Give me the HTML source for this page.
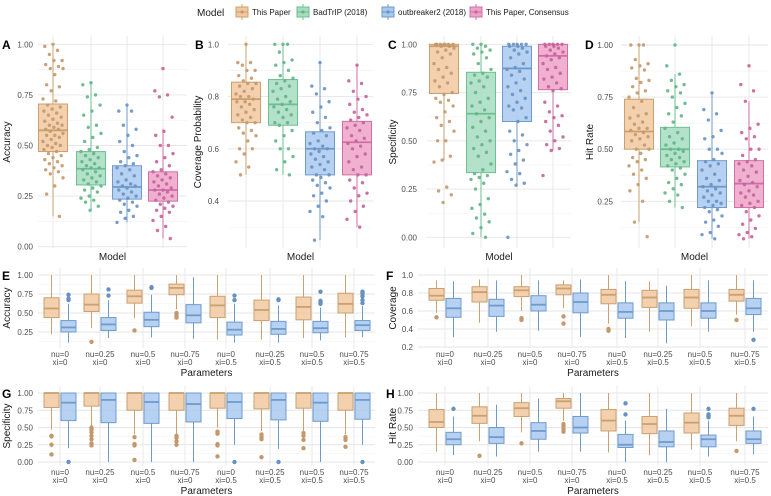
<!DOCTYPE html>
<html><head><meta charset="utf-8">
<style>
html,body{margin:0;padding:0;background:#fff;}
svg{display:block;font-family:"Liberation Sans",sans-serif;}
.tk{font-size:8px;fill:#4d4d4d;}
.ax{font-size:10px;fill:#1a1a1a;}
.lt{font-size:12px;font-weight:bold;fill:#000;}
.lg{font-size:8px;fill:#1a1a1a;}
</style></head>
<body>
<svg id="chart" width="771" height="496" viewBox="0 0 771 496" xmlns="http://www.w3.org/2000/svg"></svg>
<script>
// ---------- data ----------
const models = ["This Paper","BadTrIP (2018)","outbreaker2 (2018)","This Paper, Consensus"];
const paramLabels1 = ["nu=0","nu=0.25","nu=0.5","nu=0.75","nu=0","nu=0.25","nu=0.5","nu=0.75"];
const paramLabels2 = ["xi=0","xi=0","xi=0","xi=0","xi=0.5","xi=0.5","xi=0.5","xi=0.5"];

// Panel A (Accuracy) box stats [lo,q1,med,q3,hi]
const A_stats = [[0.15,0.47,0.575,0.705,1.0],[0.18,0.305,0.385,0.47,0.81],[0.12,0.235,0.295,0.40,0.70],[0.04,0.225,0.28,0.37,0.58]];
const A_pts0 = [1.0,0.99,0.97,0.95,0.92,0.92,0.9,0.89,0.88,0.88,0.85,0.8,0.79,0.77,0.73,0.72,0.7,0.69,0.68,0.67,0.66,0.65,0.64,0.63,0.62,0.61,0.6,0.6,0.59,0.58,0.58,0.57,0.56,0.55,0.55,0.54,0.53,0.52,0.51,0.5,0.5,0.49,0.48,0.47,0.46,0.45,0.44,0.43,0.42,0.41,0.4,0.39,0.38,0.37,0.36,0.34,0.3,0.26,0.15];
const A_pts1 = [0.81,0.8,0.75,0.74,0.7,0.67,0.65,0.6,0.59,0.56,0.54,0.52,0.49,0.48,0.47,0.46,0.45,0.44,0.43,0.42,0.41,0.4,0.39,0.39,0.38,0.37,0.36,0.35,0.34,0.33,0.32,0.31,0.3,0.29,0.28,0.27,0.25,0.24,0.23,0.22,0.2,0.18];
const A_pts2 = [0.7,0.67,0.67,0.6,0.58,0.55,0.52,0.5,0.47,0.45,0.44,0.42,0.41,0.4,0.39,0.38,0.36,0.35,0.33,0.32,0.31,0.3,0.3,0.29,0.28,0.27,0.26,0.25,0.24,0.23,0.22,0.21,0.2,0.18,0.17,0.15,0.14,0.12];
const A_pts3 = [0.88,0.77,0.75,0.74,0.64,0.57,0.55,0.5,0.5,0.46,0.44,0.42,0.4,0.38,0.37,0.36,0.35,0.34,0.33,0.32,0.31,0.3,0.29,0.28,0.28,0.27,0.26,0.25,0.24,0.23,0.22,0.21,0.2,0.19,0.18,0.17,0.15,0.13,0.1,0.08,0.04];
// Panel B (Coverage Probability)
const B_stats = [[0.5,0.70,0.79,0.855,1.0],[0.5,0.69,0.77,0.865,1.0],[0.25,0.50,0.60,0.665,0.93],[0.30,0.50,0.625,0.705,0.92]];
const B_pts0 = [1.0,0.93,0.93,0.92,0.9,0.9,0.88,0.87,0.86,0.85,0.85,0.84,0.83,0.82,0.81,0.8,0.8,0.79,0.78,0.78,0.77,0.76,0.75,0.74,0.73,0.72,0.71,0.7,0.7,0.68,0.67,0.66,0.65,0.63,0.6,0.6,0.58,0.55,0.53,0.5];
const B_pts1 = [1.0,1.0,1.0,0.97,0.94,0.93,0.92,0.9,0.88,0.87,0.86,0.85,0.84,0.83,0.82,0.8,0.79,0.78,0.77,0.76,0.75,0.74,0.73,0.72,0.7,0.7,0.69,0.67,0.65,0.63,0.6,0.6,0.57,0.55,0.52,0.5];
const B_pts2 = [0.93,0.84,0.83,0.81,0.78,0.76,0.74,0.72,0.7,0.68,0.67,0.66,0.65,0.63,0.62,0.61,0.6,0.6,0.59,0.58,0.57,0.56,0.55,0.54,0.53,0.52,0.5,0.5,0.49,0.48,0.47,0.46,0.45,0.43,0.42,0.4,0.38,0.36,0.34,0.25];
const B_pts3 = [0.92,0.86,0.85,0.82,0.8,0.79,0.77,0.75,0.74,0.73,0.72,0.71,0.7,0.69,0.68,0.67,0.65,0.64,0.63,0.62,0.61,0.6,0.58,0.57,0.55,0.53,0.52,0.5,0.5,0.48,0.47,0.45,0.43,0.42,0.4,0.38,0.36,0.33,0.3];
// Panel C (Specificity)
const C_stats = [[0.4,0.745,0.99,1.0,1.0],[0.0,0.335,0.64,0.855,1.0],[0.27,0.60,0.875,0.99,1.0],[0.45,0.765,0.94,1.0,1.0]];
const C_pts0 = [1,1,1,1,1,1,1,0.99,0.99,0.98,0.97,0.96,0.95,0.93,0.9,0.88,0.87,0.85,0.83,0.81,0.8,0.78,0.75,0.74,0.72,0.71,0.7,0.68,0.65,0.62,0.6,0.58,0.55,0.5,0.5,0.42,0.4,0.39,0.26,0.24,0.22,0.18];
const C_pts1 = [1,1,0.99,0.98,0.97,0.96,0.95,0.93,0.9,0.87,0.85,0.84,0.83,0.81,0.8,0.78,0.75,0.72,0.7,0.68,0.66,0.64,0.62,0.6,0.57,0.55,0.52,0.5,0.48,0.46,0.44,0.42,0.38,0.35,0.33,0.32,0.31,0.3,0.28,0.25,0.2,0.17,0.15,0.12,0.1,0.08,0.05,0.02,0.0];
const C_pts2 = [1,1,1,1,1,0.99,0.99,0.98,0.97,0.96,0.95,0.93,0.9,0.88,0.87,0.86,0.84,0.82,0.8,0.78,0.76,0.74,0.72,0.7,0.68,0.67,0.66,0.62,0.6,0.55,0.53,0.5,0.48,0.45,0.43,0.4,0.38,0.34,0.33,0.3,0.28,0.27,0.0];
const C_pts3 = [1,1,1,1,1,0.99,0.99,0.98,0.97,0.96,0.95,0.94,0.93,0.92,0.9,0.88,0.87,0.85,0.83,0.82,0.8,0.78,0.77,0.76,0.7,0.68,0.65,0.63,0.62,0.6,0.58,0.55,0.52,0.5,0.48,0.46,0.45,0.32];
// Panel D (Hit Rate)
const D_stats = [[0.15,0.50,0.585,0.74,1.0],[0.22,0.415,0.50,0.605,0.86],[0.07,0.22,0.32,0.445,0.77],[0.07,0.22,0.335,0.445,0.73]];
const D_pts0 = [1,1,1,0.93,0.91,0.9,0.89,0.88,0.84,0.83,0.82,0.8,0.78,0.77,0.75,0.73,0.7,0.67,0.66,0.65,0.63,0.62,0.6,0.6,0.59,0.58,0.57,0.56,0.55,0.54,0.52,0.5,0.5,0.48,0.46,0.45,0.44,0.42,0.4,0.38,0.36,0.33,0.3,0.25,0.15,0.08];
const D_pts1 = [1.0,0.9,0.86,0.83,0.81,0.8,0.78,0.77,0.75,0.72,0.7,0.67,0.66,0.63,0.6,0.58,0.56,0.55,0.53,0.52,0.5,0.5,0.49,0.48,0.47,0.46,0.45,0.44,0.43,0.42,0.41,0.4,0.38,0.36,0.34,0.33,0.31,0.29,0.28,0.25,0.22];
const D_pts2 = [0.77,0.69,0.67,0.64,0.59,0.56,0.55,0.5,0.5,0.48,0.45,0.44,0.43,0.42,0.4,0.38,0.36,0.35,0.33,0.32,0.31,0.3,0.29,0.28,0.27,0.25,0.25,0.24,0.23,0.22,0.21,0.2,0.18,0.16,0.15,0.13,0.1,0.09,0.07];
const D_pts3 = [0.9,0.81,0.78,0.73,0.62,0.6,0.58,0.56,0.55,0.5,0.5,0.47,0.45,0.44,0.43,0.42,0.4,0.39,0.37,0.35,0.34,0.33,0.32,0.3,0.29,0.28,0.27,0.25,0.24,0.23,0.22,0.2,0.18,0.16,0.14,0.12,0.1,0.09,0.08,0.07];

// Panel E (Accuracy by parameters)
const E_tp = [[0.22,0.44,0.56,0.70,1.0],[0.30,0.52,0.61,0.75,1.0],[0.43,0.63,0.72,0.80,1.0],[0.55,0.74,0.83,0.88,1.0],[0.15,0.44,0.60,0.72,1.0],[0.15,0.40,0.54,0.67,1.0],[0.17,0.41,0.58,0.71,1.0],[0.18,0.50,0.62,0.76,1.0]];
const E_tp_out = [[],[0.12],[0.27],[0.44,0.46,0.49,0.5],[],[],[],[]];
const E_ob = [[0.11,0.25,0.31,0.40,0.62],[0.17,0.27,0.35,0.44,0.67],[0.18,0.32,0.41,0.51,0.74],[0.16,0.37,0.47,0.61,0.97],[0.11,0.21,0.28,0.38,0.62],[0.11,0.22,0.29,0.39,0.60],[0.14,0.24,0.30,0.39,0.57],[0.18,0.27,0.34,0.40,0.59]];
const E_ob_out = [[0.67,0.69,0.74],[0.73,0.81],[0.83,0.84],[],[0.67,0.73],[0.67,0.68],[0.62,0.64,0.66,0.78],[0.63,0.67,0.72,0.75,0.77,0.78]];
// Panel F (Coverage by parameters)
const F_tp = [[0.58,0.72,0.77,0.85,0.94],[0.47,0.70,0.81,0.87,0.95],[0.60,0.76,0.83,0.87,1.0],[0.63,0.78,0.85,0.89,0.94],[0.46,0.68,0.78,0.84,1.0],[0.37,0.64,0.75,0.83,0.93],[0.43,0.63,0.75,0.84,1.0],[0.56,0.71,0.78,0.84,1.0]];
const F_tp_out = [[0.53],[],[0.50,0.52],[0.46,0.54],[0.38,0.40],[],[],[0.50]];
const F_ob = [[0.31,0.53,0.63,0.74,0.93],[0.37,0.54,0.66,0.73,0.94],[0.38,0.60,0.67,0.77,0.94],[0.31,0.58,0.70,0.80,0.95],[0.30,0.52,0.59,0.69,0.93],[0.24,0.50,0.60,0.69,0.88],[0.37,0.52,0.60,0.69,0.94],[0.37,0.56,0.63,0.74,0.94]];
const F_ob_out = [[],[],[],[],[],[],[],[0.28]];
// Panel G (Specificity by parameters)
const G_tp = [[0.47,0.79,1,1,1],[0.53,0.81,1,1,1],[0.40,0.75,1,1,1],[0.40,0.75,1,1,1],[0.50,0.78,1,1,1],[0.45,0.77,1,1,1],[0.45,0.78,1,1,1],[0.40,0.75,1,1,1]];
const G_tp_out = [[0.38,0.37,0.25,0.11],[0.5,0.47,0.43,0.38,0.33,0.27,0.24],[0.36,0.26,0.24,0.03],[0.38,0.35,0.3,0.25],[0.44,0.41,0.26,0.24,0.08],[0.4,0.36,0.33,0.07],[0.42,0.38,0.32,0.2],[0.36,0.32,0.22]];
const G_ob = [[0.2,0.6,0.86,1,1],[0,0.57,0.9,1,1],[0,0.56,0.87,1,1],[0,0.58,0.84,1,1],[0.25,0.63,0.87,1,1],[0.19,0.61,0.9,1,1],[0,0.59,0.86,1,1],[0.25,0.62,0.9,1,1]];
const G_ob_out = [[0],[],[],[],[0],[0],[],[0]];
// Panel H (Hit Rate by parameters)
const H_tp = [[0.15,0.5,0.58,0.76,1.0],[0.3,0.56,0.67,0.8,1.0],[0.43,0.66,0.78,0.86,1.0],[0.6,0.78,0.88,0.92,1.0],[0.14,0.45,0.6,0.76,1.0],[0.1,0.41,0.55,0.66,1.0],[0.18,0.42,0.57,0.71,1.0],[0.3,0.53,0.67,0.78,1.0]];
const H_tp_out = [[],[0.09],[0.27],[0.44,0.48,0.52,0.55],[],[],[],[0.16]];
const H_ob = [[0.1,0.25,0.33,0.43,0.66],[0.08,0.27,0.36,0.5,0.83],[0.15,0.33,0.45,0.57,0.92],[0.15,0.42,0.5,0.66,1.0],[0,0.21,0.25,0.4,0.6],[0,0.22,0.29,0.45,0.77],[0.08,0.22,0.33,0.39,0.6],[0.11,0.27,0.33,0.45,0.66]];
const H_ob_out = [[0.77],[],[],[],[0.69,0.85],[],[0.65,0.67,0.69,0.77],[0.77]];

// ---------- rendering ----------
const NS = "http://www.w3.org/2000/svg";
const svg = document.getElementById("chart");
const COLS = [
  {fill:"#f1c8a0", stroke:"#c9a06e", pt:"#c4986a"},
  {fill:"#a6dcbf", stroke:"#6dbf92", pt:"#62b586"},
  {fill:"#a9c9ee", stroke:"#6f9bcb", pt:"#6891c2"},
  {fill:"#eda3c9", stroke:"#cf70a4", pt:"#c7629a"}
];
function mk(tag, attrs, parent){
  const e = document.createElementNS(NS, tag);
  for (const k in attrs) e.setAttribute(k, attrs[k]);
  (parent||svg).appendChild(e);
  return e;
}
function txt(x,y,s,cls,anchor,parent){
  const t = mk("text",{x:x,y:y,class:cls,"text-anchor":anchor||"start"},parent);
  t.textContent = s;
  return t;
}
function linScale(v0,p0,v1,p1){ return v => p0 + (v-v0)*(p1-p0)/(v1-v0); }

function grid(g, x0,x1,y0,y1, ys, ticks, minor, xs, fmt, labX){
  ticks.forEach(v=>{
    const l = mk("line",{x1:x0,x2:x1,y1:ys(v),y2:ys(v),stroke:"#e6e6e6","stroke-width":0.9},g);
    
    
    const t = txt(labX, ys(v)+3, fmt(v), "tk", "end", g);
    
    
  });
  minor.forEach(v=>{
    const y = ys(v);
    if (y>y0 && y<y1) mk("line",{x1:x0,x2:x1,y1:y,y2:y,stroke:"#f2f2f2","stroke-width":0.6},g);
  });
  xs.forEach(x=>{
    const l = mk("line",{x1:x,x2:x,y1:y0,y2:y1,stroke:"#e6e6e6","stroke-width":0.9},g);
    
    
  });
}
function box(g, cx, w, s, ys, col, name){
  const bg = mk("g",{},g);
  
  
  mk("line",{x1:cx,x2:cx,y1:ys(s[4]),y2:ys(s[3]),stroke:col.stroke,"stroke-width":1},bg);
  mk("line",{x1:cx,x2:cx,y1:ys(s[1]),y2:ys(s[0]),stroke:col.stroke,"stroke-width":1},bg);
  mk("rect",{x:cx-w/2,y:ys(s[3]),width:w,height:Math.max(0.5,ys(s[1])-ys(s[3])),fill:col.fill,"fill-opacity":0.85,stroke:col.stroke,"stroke-width":1},bg);
  mk("line",{x1:cx-w/2,x2:cx+w/2,y1:ys(s[2]),y2:ys(s[2]),stroke:col.stroke,"stroke-width":1.8},bg);
}
function points(g, cx, pts, ys, col, spread){
  pts.forEach((v,i)=>{
    const j = (((i*37+11)%23)/22 - 0.5)*spread;
    const c = mk("circle",{cx:cx+j,cy:ys(v),r:1.7,fill:col.pt,"fill-opacity":0.9},g);
    
    
  });
}
function ylab(x,y,s){
  const t = mk("text",{x:0,y:0,class:"ax","text-anchor":"middle",transform:`translate(${x},${y}) rotate(-90)`});
  t.textContent = s;
  
  
}
function letter(x,y,s){
  const t = txt(x,y,s,"lt","start");
  
  
}

// top panels
function topPanel(cfg){
  const g = mk("g",{});
  
  
  const ys = linScale(cfg.v0,cfg.p0,cfg.v1,cfg.p1);
  grid(g, cfg.x0, cfg.x1, 36, 248, ys, cfg.ticks, cfg.minor, cfg.cats, cfg.fmt, cfg.labX);
  for (let k=0;k<4;k++) box(g, cfg.cats[k], 29, cfg.stats[k], ys, COLS[k], 'box-'+cfg.key+'-'+k);
  for (let k=0;k<4;k++) points(g, cfg.cats[k], cfg.pts[k], ys, COLS[k], 20);
  const m = txt((cfg.x0+cfg.x1)/2, 260, "Model", "ax", "middle", g);
  
  
  letter(cfg.lx, 49, cfg.letter);
  ylab(cfg.tx, 142, cfg.title);
}
const f2 = v=>v.toFixed(2), f1 = v=>v.toFixed(1);
topPanel({name:"panel-a-accuracy",key:"a",letter:"A",title:"Accuracy",lx:2,tx:10,labX:33,x0:38,x1:187,cats:[53,91,127,163],
  v0:0,p0:246.7,v1:1,p1:44.3,ticks:[0,0.25,0.5,0.75,1],minor:[0.125,0.375,0.625,0.875],fmt:f2,stats:A_stats,pts:[A_pts0,A_pts1,A_pts2,A_pts3]});
topPanel({name:"panel-b-coverage",key:"b",letter:"B",title:"Coverage Probability",lx:195,tx:201,labX:219,x0:228,x1:373,cats:[246,283,320,357],
  v0:0.4,p0:201,v1:1,p1:44.3,ticks:[0.4,0.6,0.8,1.0],minor:[0.3,0.5,0.7,0.9],fmt:f1,stats:B_stats,pts:[B_pts0,B_pts1,B_pts2,B_pts3]});
topPanel({name:"panel-c-specificity",key:"c",letter:"C",title:"Specificity",lx:388,tx:396,labX:417,x0:427,x1:571,cats:[444,481,517,553],
  v0:0,p0:237.3,v1:1,p1:44.3,ticks:[0,0.25,0.5,0.75,1],minor:[0.125,0.375,0.625,0.875],fmt:f2,stats:C_stats,pts:[C_pts0,C_pts1,C_pts2,C_pts3]});
topPanel({name:"panel-d-hit-rate",key:"d",letter:"D",title:"Hit Rate",lx:585,tx:593,labX:613,x0:621,x1:768,cats:[639,675,712,749],
  v0:0.25,p0:201.3,v1:1,p1:45,ticks:[0.25,0.5,0.75,1],minor:[0.125,0.375,0.625,0.875],fmt:f2,stats:D_stats,pts:[D_pts0,D_pts1,D_pts2,D_pts3]});

// bottom panels
function botPanel(cfg){
  const g = mk("g",{});
  
  
  const ys = linScale(cfg.v0,cfg.p0,cfg.v1,cfg.p1);
  grid(g, cfg.x0, cfg.x1, cfg.y0, cfg.y1, ys, cfg.ticks, cfg.minor, cfg.groups, cfg.fmt, cfg.labX);
  const series = [[cfg.tp,cfg.tpo,COLS[0],-8.5],[cfg.ob,cfg.obo,COLS[2],8.5]];
  series.forEach(([st,out,col,off],si)=>{
    st.forEach((s,i)=>{
      const cx = cfg.groups[i]+off;
      box(g, cx, 15, s, ys, col, 'box-'+cfg.key+'-'+(si?'outbreaker2':'this-paper')+'-'+i);
      out[i].forEach(v=>{
        const c = mk("circle",{cx:cx,cy:ys(v),r:2.2,fill:col.pt},g);
        
        
      });
    });
  });
  cfg.groups.forEach((x,i)=>{
    const a = txt(x, cfg.y1+9, paramLabels1[i], "tk", "middle", g);
    
    
    const b = txt(x, cfg.y1+17, paramLabels2[i], "tk", "middle", g);
    
    
  });
  const p = txt((cfg.x0+cfg.x1)/2, cfg.y1+28, "Parameters", "ax", "middle", g);
  
  
  letter(cfg.lx, cfg.p1+5, cfg.letter);
  ylab(cfg.tx, (cfg.y0+cfg.y1)/2, cfg.title);
}
const gE=[60,100,143,185,226,270,312,354], gF=[445,488,530,572,617,658,700,745];
botPanel({name:"panel-e-accuracy-params",key:"e",letter:"E",title:"Accuracy",lx:2,tx:10,labX:33,x0:38,x1:375,y0:268,y1:348,groups:gE,
  v0:0.25,p0:332,v1:1,p1:275,ticks:[0.25,0.5,0.75,1],minor:[0.125,0.375,0.625,0.875],fmt:f2,tp:E_tp,tpo:E_tp_out,ob:E_ob,obo:E_ob_out});
botPanel({name:"panel-f-coverage-params",key:"f",letter:"F",title:"Coverage",lx:386,tx:396,labX:413,x0:418,x1:768,y0:268,y1:348,groups:gF,
  v0:0.2,p0:347,v1:1,p1:275,ticks:[0.2,0.4,0.6,0.8,1.0],minor:[0.3,0.5,0.7,0.9],fmt:f1,tp:F_tp,tpo:F_tp_out,ob:F_ob,obo:F_ob_out});
botPanel({name:"panel-g-specificity-params",key:"g",letter:"G",title:"Specificity",lx:2,tx:10,labX:33,x0:38,x1:375,y0:386,y1:466,groups:gE,
  v0:0,p0:462,v1:1,p1:393,ticks:[0,0.25,0.5,0.75,1],minor:[0.125,0.375,0.625,0.875],fmt:f2,tp:G_tp,tpo:G_tp_out,ob:G_ob,obo:G_ob_out});
botPanel({name:"panel-h-hit-rate-params",key:"h",letter:"H",title:"Hit Rate",lx:386,tx:396,labX:413,x0:418,x1:768,y0:386,y1:466,groups:gF,
  v0:0,p0:462,v1:1,p1:393,ticks:[0,0.25,0.5,0.75,1],minor:[0.125,0.375,0.625,0.875],fmt:f2,tp:H_tp,tpo:H_tp_out,ob:H_ob,obo:H_ob_out});

// legend
const lg = mk("g",{});


const lt = txt(197, 16, "Model", "ax", "start", lg);


const keyX = [236, 297, 382, 470];
models.forEach((m,k)=>{
  const e = mk("g",{},lg);
  
  
  const x = keyX[k], col = COLS[k];
  mk("line",{x1:x+6,x2:x+6,y1:4,y2:20,stroke:col.stroke,"stroke-width":1},e);
  mk("rect",{x:x,y:7,width:12,height:10,fill:col.fill,stroke:col.stroke,"stroke-width":1},e);
  mk("line",{x1:x,x2:x+12,y1:12,y2:12,stroke:col.stroke,"stroke-width":1},e);
  mk("circle",{cx:x+6,cy:12,r:1.6,fill:col.pt},e);
  txt(x+16, 15, m, "lg", "start", e);
});
</script>
</body></html>
